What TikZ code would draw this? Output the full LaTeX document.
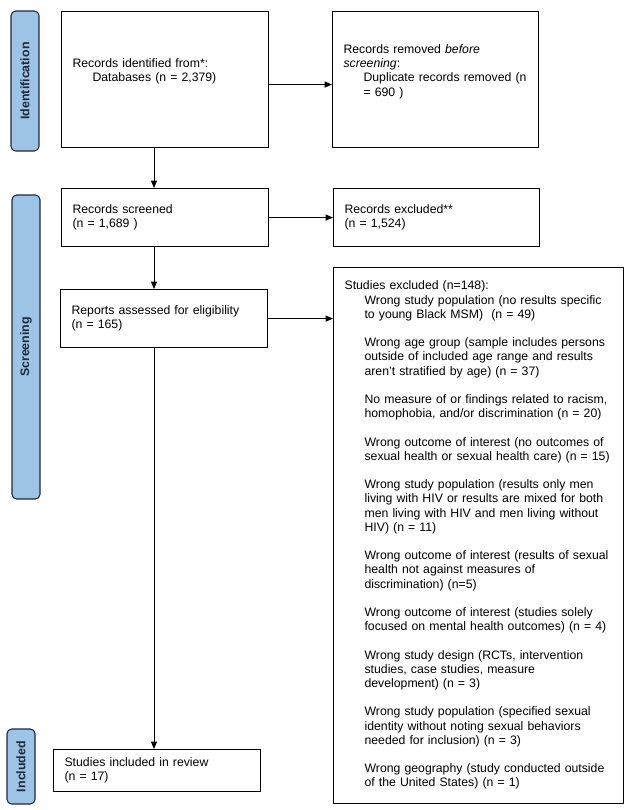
\documentclass[tikz,border=0pt]{standalone}
\usepackage{fontspec}
\setmainfont{Liberation Sans}
\usetikzlibrary{arrows.meta}
\definecolor{bandfill}{HTML}{9DC3E6}
\definecolor{banddraw}{HTML}{1F2A3A}
\newcommand\Ind{\hspace*{15pt}}
\newcommand\bl{10.65pt}
\begin{document}
\begin{tikzpicture}[x=0.75pt,y=-0.75pt,
  txt/.style={font=\fontsize{9.2}{10.65}\selectfont},
  pbox/.style={draw=black, line width=0.85pt, rectangle, anchor=north west,
    align=left, inner xsep=8.25pt, inner ysep=0pt, txt},
  band/.style={draw=banddraw, fill=bandfill, line width=0.8pt, rounded corners=3.5pt,
    rotate=90, inner sep=0pt, font=\fontsize{9.3}{11}\selectfont\bfseries, text=banddraw},
  arr/.style={draw=black, line width=0.6pt, -{Triangle[length=5.5pt,width=4.5pt]}}
]
\useasboundingbox (0,0) rectangle (629,810);

% phase bands
\node[band, minimum width=105pt, minimum height=21pt] (bandI) at (25,81) {Identification};
\node[band, minimum width=228pt, minimum height=21pt] (bandS) at (26,347) {Screening};
\node[band, minimum width=56.25pt, minimum height=21pt] (bandC) at (21,766.5) {Included};

% boxes
\node[pbox, minimum width=155.25pt, minimum height=102pt, text width=138.75pt] (B1) at (61,11)
  {Records identified from*:\\ \Ind Databases (n = 2,379)\\ \strut};
\node[pbox, minimum width=154.5pt, minimum height=102pt, text width=138pt] (B2) at (332,11)
  {Records removed \emph{before}\\ \emph{screening}:\\ \Ind Duplicate records removed (n\\ \Ind = 690 )\\ \strut};
\node[pbox, minimum width=155.25pt, minimum height=43.5pt, text width=138.75pt] (B3) at (61,188)
  {Records screened\\ (n = 1,689 )};
\node[pbox, minimum width=154.5pt, minimum height=43.5pt, text width=138pt] (B4) at (333,188)
  {Records excluded**\\ (n = 1,524)};
\node[pbox, minimum width=155.25pt, minimum height=43.5pt, text width=138.75pt] (B5) at (60,289)
  {Reports assessed for eligibility\\ (n = 165)};
\node[pbox, minimum width=217.5pt, minimum height=402pt, text width=201pt] (EX) at (333,267)
  {\begin{tabular}{@{}l@{}}
   Studies excluded (n=148):\\
   \Ind Wrong study population (no results specific\\
   \Ind to young Black MSM)~~(n = 49)\\[\bl]
   \Ind Wrong age group (sample includes persons\\
   \Ind outside of included age range and results\\
   \Ind aren’t stratified by age) (n = 37)\\[\bl]
   \Ind No measure of or findings related to racism,\\
   \Ind homophobia, and/or discrimination (n = 20)\\[\bl]
   \Ind Wrong outcome of interest (no outcomes of\\
   \Ind sexual health or sexual health care) (n = 15)\\[\bl]
   \Ind Wrong study population (results only men\\
   \Ind living with HIV or results are mixed for both\\
   \Ind men living with HIV and men living without\\
   \Ind HIV) (n = 11)\\[\bl]
   \Ind Wrong outcome of interest (results of sexual\\
   \Ind health not against measures of\\
   \Ind discrimination) (n=5)\\[\bl]
   \Ind Wrong outcome of interest (studies solely\\
   \Ind focused on mental health outcomes) (n = 4)\\[\bl]
   \Ind Wrong study design (RCTs, intervention\\
   \Ind studies, case studies, measure\\
   \Ind development) (n = 3)\\[\bl]
   \Ind Wrong study population (specified sexual\\
   \Ind identity without noting sexual behaviors\\
   \Ind needed for inclusion) (n = 3)\\[\bl]
   \Ind Wrong geography (study conducted outside\\
   \Ind of the United States) (n = 1)
   \end{tabular}};
\node[pbox, minimum width=155.25pt, minimum height=31.5pt, text width=138.75pt] (B6) at (53,749)
  {Studies included in review\\ (n = 17)};

% column for vertical connectors
\coordinate (col) at (154,0);

% connectors
\draw[arr] ([yshift=-3.75pt]B1.east) -- ([yshift=-3.75pt]B1.east -| B2.west);
\draw[arr] (B1.south -| col) -- (B3.north -| col);
\draw[arr] (B3.east) -- (B3.east -| B4.west);
\draw[arr] (B3.south -| col) -- (B5.north -| col);
\draw[arr] (B5.east) -- (B5.east -| EX.west);
\draw[arr] (B5.south -| col) -- (B6.north -| col);
\end{tikzpicture}
\end{document}
